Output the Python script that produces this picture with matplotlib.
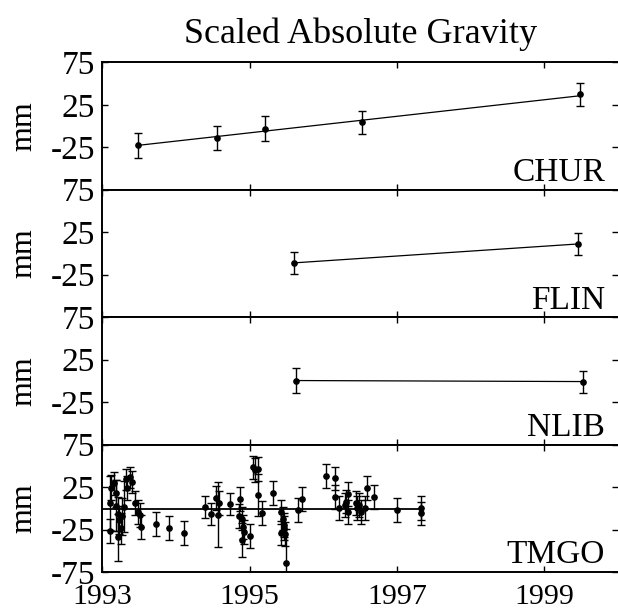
import numpy as np
import matplotlib.pyplot as plt

plt.rcParams['font.family'] = ['Liberation Serif', 'DejaVu Serif']

## station data (decimal year, mm, error mm)
chur_year = [1993.48, 1994.56, 1995.21, 1996.53, 1999.49]
chur_val = [-22.8, -14.2, -3.3, 4.5, 37.2]
chur_err = [14.4, 14.6, 14.8, 13.4, 13.6]
chur_trend_year = [1993.48, 1999.49]
chur_trend_val = [-22.8, 35.7]

flin_year = [1995.60, 1999.46]
flin_val = [-11.1, 11.2]
flin_err = [13.1, 12.5]
flin_trend_year = [1995.60, 1999.46]
flin_trend_val = [-11.1, 11.2]

nlib_year = [1995.63, 1999.52]
nlib_val = [0.4, -0.8]
nlib_err = [14.2, 13.0]
nlib_trend_year = [1995.63, 1999.52]
nlib_trend_val = [0.4, -0.8]

tmgo_year = [1993.10, 1993.11, 1993.12, 1993.16, 1993.18, 1993.19, 1993.21, 1993.21,
             1993.23, 1993.25, 1993.27, 1993.30, 1993.32, 1993.34, 1993.38, 1993.40,
             1993.45, 1993.48, 1993.51, 1993.53, 1993.73, 1993.90, 1994.11, 1994.39,
             1994.47, 1994.55, 1994.57, 1994.59, 1994.74, 1994.85, 1994.87, 1994.90,
             1994.91, 1994.90, 1994.93, 1995.00, 1995.05, 1995.07, 1995.11, 1995.11,
             1995.17, 1995.32, 1995.42, 1995.43, 1995.45, 1995.46, 1995.47, 1995.48,
             1995.49, 1995.65, 1995.71, 1996.04, 1996.16, 1996.16, 1996.21, 1996.29,
             1996.31, 1996.33, 1996.34, 1996.44, 1996.46, 1996.48, 1996.51, 1996.56,
             1996.59, 1996.69, 1997.00, 1997.33, 1997.33]
tmgo_val = [6.6, -26.4, 24.2, 29.3, 17.6, 3.0, -6.8, -34.3,
            -13.8, -23.5, -9.6, 1.8, 34.0, 24.0, 36.4, 31.0,
            5.8, -4.0, -8.0, -22.4, -18.9, -23.6, -29.5, 1.8,
            -6.8, 11.7, -7.4, 6.5, 5.0, -9.0, 10.5, -12.0,
            -22.0, -37.4, -28.0, -32.6, 48.1, 45.0, 46.0, 15.6,
            -5.2, 18.3, -29.5, -4.0, -12.0, -20.0, -23.0, -30.0,
            -64.8, -2.0, 10.5, 38.3, 35.2, 12.9, 0.0, 3.8,
            8.0, -4.0, 16.4, 5.8, 0.0, 3.8, -4.0, 0.0,
            24.2, 13.6, -2.0, 0.0, -6.0]
tmgo_err = [32, 14, 15, 14, 16, 30, 20, 28,
            16, 18, 22, 30, 12, 14, 12, 13,
            14, 14, 14, 14, 14, 14, 14, 13,
            13, 14, 38, 14, 13, 14, 14, 14,
            14, 20, 14, 14, 14, 14, 14, 25,
            14, 14, 14, 14, 14, 14, 14, 14,
            40, 14, 14, 14, 14, 14, 14, 14,
            14, 14, 14, 14, 14, 14, 14, 14,
            14, 14, 14, 14, 14]
tmgo_trend_year = [1993.0, 1997.34]
tmgo_trend_val = [-0.5, -0.5]

stations = ['CHUR', 'FLIN', 'NLIB', 'TMGO']
data = [
    (chur_year, chur_val, chur_err, chur_trend_year, chur_trend_val),
    (flin_year, flin_val, flin_err, flin_trend_year, flin_trend_val),
    (nlib_year, nlib_val, nlib_err, nlib_trend_year, nlib_trend_val),
    (tmgo_year, tmgo_val, tmgo_err, tmgo_trend_year, tmgo_trend_val),
]

year_ticks = [1993, 1995, 1997, 1999]
mm_ticks = [-75, -25, 25, 75]

fig = plt.figure(figsize=(6.18, 6.11), dpi=100)
gs = fig.add_gridspec(4, 1, left=0.1655, right=1.0, top=0.898, bottom=0.0638, hspace=0)

for i, name in enumerate(stations):
    ax = fig.add_subplot(gs[i])
    yr, val, err, tyr, tval = data[i]
    lw_trend = 1.3 if name == 'TMGO' else 0.9
    ax.plot(tyr, tval, color='k', lw=lw_trend, zorder=2)
    ax.errorbar(yr, val, yerr=err, fmt='o', color='k', ms=3.8,
                elinewidth=1.0, capsize=3, capthick=1.0, zorder=3)
    ax.set_xlim(1993, 2000)
    ax.set_ylim(-75, 75)
    ax.set_xticks(year_ticks)
    ax.set_yticks(mm_ticks)
    if i < 3:
        ax.set_yticklabels(['', '-25', '25', '75'])
        ax.set_xticklabels([])
    else:
        ax.set_yticklabels(['-75', '-25', '25', '75'])
        ax.set_xticklabels([str(t) for t in year_ticks])
    ax.tick_params(direction='in', top=True, right=True, length=4.5, width=1.0)
    ax.tick_params(axis='y', labelsize=24, pad=5)
    ax.tick_params(axis='x', labelsize=21.5, pad=8.5)
    for s in ['left', 'top', 'bottom']:
        ax.spines[s].set_linewidth(1.4)
    ax.spines['right'].set_visible(False)
    ax.set_ylabel('mm', fontsize=23, labelpad=9)
    ax.text(0.975, 0.068, name, transform=ax.transAxes, ha='right', va='baseline',
            fontsize=24)
    if i == 0:
        ax.set_title('Scaled Absolute Gravity', fontsize=26, pad=14)

fig.savefig('out.png', dpi=100)
